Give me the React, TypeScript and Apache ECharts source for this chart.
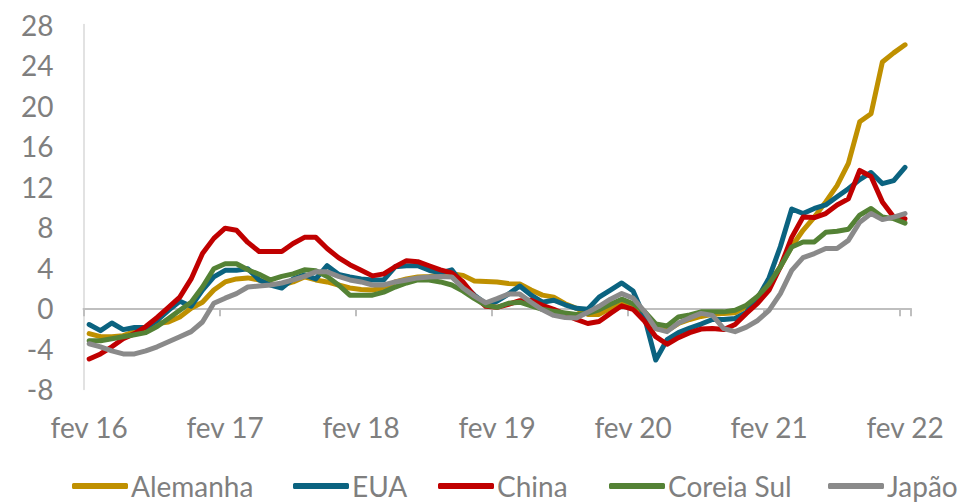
import React, { useEffect, useRef } from "react";
import * as echarts from "echarts";

const monthNames = ["jan", "fev", "mar", "abr", "mai", "jun", "jul", "ago", "set", "out", "nov", "dez"];
const startYear = 2016;
const startMonth = 1; // fev
const monthCount = 73; // fev 16 .. fev 22

const categories: string[] = [];
for (let k = 0; k < monthCount; k++) {
  const m = (startMonth + k) % 12;
  const y = startYear + Math.floor((startMonth + k) / 12);
  categories.push(`${monthNames[m]} ${String(y).slice(2)}`);
}

const yMin = -8;
const yMax = 28;
const yStep = 4;

const seriesNames = ["Alemanha", "EUA", "China", "Coreia Sul", "Japão"];
const seriesColors = ["#BF9000", "#0B6380", "#C00000", "#548235", "#8A8A8A"];

const alemanha = [
  -2.5, -2.8, -2.8, -2.7, -2.3, -2.0, -1.5, -1.35, -0.85, 0, 0.6, 1.8,
  2.6, 2.9, 3.0, 2.8, 2.4, 2.3, 2.6, 3.1, 2.8, 2.6, 2.3, 2.0,
  1.85, 1.8, 2.0, 2.6, 2.9, 3.1, 3.15, 3.3, 3.4, 3.25, 2.7, 2.65,
  2.6, 2.45, 2.4, 1.8, 1.3, 1.1, 0.45, 0, -0.6, -0.6, 0, 0.4,
  0.3, -0.5, -2.0, -2.2, -1.5, -1.1, -0.8, -0.6, -0.5, -0.45, 0.15, 1.1,
  2.5, 4.1, 6.1, 7.7, 9.0, 10.5, 12.1, 14.3, 18.4, 19.2, 24.3, 25.2,
  26.0,
];

const eua = [
  -1.6, -2.2, -1.45, -2.1, -1.9, -1.9, -1.2, -0.2, 0.7, 0.2, 1.8, 3.1,
  3.75, 3.75, 3.9, 2.8, 2.3, 2.0, 2.9, 3.3, 2.9, 4.2, 3.35, 3.1,
  2.9, 2.8, 2.8, 4.1, 4.2, 4.2, 3.75, 3.5, 3.8, 2.35, 1.3, 0.45,
  0.7, 1.4, 2.2, 1.3, 0.6, 0.8, 0.35, 0, -0.1, 1.1, 1.8, 2.5,
  1.7, -0.85, -5.1, -3.1, -2.4, -1.95, -1.55, -1.1, -1.1, -1.0, -0.4, 1.0,
  3.0, 6.1, 9.8, 9.35, 9.85, 10.2, 11.0, 11.8, 12.7, 13.4, 12.3, 12.6,
  13.9,
];

const china = [
  -5.0, -4.5, -3.8, -3.0, -2.5, -1.8, -0.9, 0.1, 1.1, 2.9, 5.4, 6.9,
  7.9, 7.7, 6.5, 5.6, 5.6, 5.6, 6.4, 7.0, 7.0, 5.9, 5.0, 4.3,
  3.75, 3.2, 3.4, 4.1, 4.7, 4.6, 4.2, 3.8, 3.5, 2.6, 1.2, 0.2,
  0.1, 0.4, 0.75, 0.8, 0.3, -0.1, -0.6, -1.1, -1.5, -1.3, -0.5, 0.25,
  -0.1, -1.25, -2.8, -3.55, -2.9, -2.4, -2.05, -2.0, -2.1, -1.6, -0.5, 0.5,
  1.8, 4.1, 7.0, 9.0, 8.95, 9.35, 10.2, 10.8, 13.6, 13.0, 10.5, 9.0,
  8.85,
];

const coreiaSul = [
  -3.2, -3.2, -3.0, -2.8, -2.6, -2.4, -1.8, -1.0, -0.2, 0.6, 2.1, 3.9,
  4.4, 4.4, 3.8, 3.35, 2.8, 3.15, 3.4, 3.8, 3.7, 3.15, 2.3, 1.3,
  1.3, 1.3, 1.6, 2.1, 2.5, 2.8, 2.8, 2.6, 2.3, 1.7, 0.95, 0.3,
  0.1, 0.5, 0.6, 0.25, -0.1, -0.3, -0.45, -0.6, -0.5, -0.15, 0.4, 0.9,
  0.45, -0.3, -1.55, -1.75, -0.85, -0.65, -0.35, -0.35, -0.35, -0.2, 0.3, 1.2,
  2.4, 4.1, 6.05, 6.55, 6.55, 7.5, 7.6, 7.8, 9.2, 9.85, 9.0, 8.85,
  8.4,
];

const japao = [
  -3.5, -3.8, -4.2, -4.5, -4.5, -4.2, -3.8, -3.3, -2.8, -2.3, -1.35, 0.5,
  1.0, 1.45, 2.1, 2.2, 2.3, 2.5, 2.8, 3.15, 3.6, 3.6, 3.15, 2.8,
  2.6, 2.3, 2.3, 2.6, 2.8, 3.0, 3.1, 3.15, 3.1, 2.0, 1.2, 0.55,
  0.95, 1.4, 1.4, 0.6, -0.15, -0.7, -0.9, -0.95, -0.4, 0.2, 0.9, 1.45,
  1.0, -0.3, -2.0, -2.3, -1.45, -0.95, -0.5, -0.7, -2.0, -2.3, -1.85, -1.2,
  -0.2, 1.45, 3.75, 5.0, 5.4, 5.9, 5.9, 6.7, 8.5, 9.35, 8.75, 9.0,
  9.35,
];

const seriesData = [alemanha, eua, china, coreiaSul, japao];

const FONT = "Lato";
const TEXT_COLOR = "#7F7F7F";
const legendLefts = [72, 293, 438, 609, 828];

export default function App() {
  const ref = useRef<HTMLDivElement>(null);

  useEffect(() => {
    if (!ref.current) return;
    const chart = echarts.init(ref.current, undefined, { renderer: "svg" });

    const option: any = {
      animation: false,
      textStyle: { fontFamily: FONT },
      grid: { left: 83.5, right: 52.3, top: 24.5, bottom: 113.6, containLabel: false },
      xAxis: [
        {
          type: "category",
          data: categories,
          boundaryGap: true,
          position: "bottom",
          axisLine: { show: false, onZero: false },
          axisTick: { show: false },
          splitLine: { show: false },
          axisLabel: {
            interval: 11,
            color: TEXT_COLOR,
            fontSize: 28,
            fontFamily: FONT,
            margin: 24,
          },
        },
        {
          type: "category",
          data: categories,
          boundaryGap: true,
          position: "bottom",
          axisLine: { show: true, onZero: true, lineStyle: { color: "#BFBFBF", width: 2 } },
          axisTick: { show: true, interval: 11, length: 8, lineStyle: { color: "#BFBFBF", width: 2 } },
          axisLabel: { show: false },
          splitLine: { show: false },
        },
      ],
      yAxis: {
        type: "value",
        min: yMin,
        max: yMax,
        interval: yStep,
        axisLine: { show: true, lineStyle: { color: "#D9D9D9", width: 1.5 } },
        axisTick: { show: false },
        splitLine: { show: false },
        axisLabel: { color: TEXT_COLOR, fontSize: 28, fontFamily: FONT, margin: 30 },
      },
      legend: seriesNames.map((name, i) => ({
        data: [name],
        left: legendLefts[i],
        top: 472,
        padding: 0,
        itemWidth: 56,
        itemHeight: 6,
        icon: "roundRect",
        selectedMode: false,
        textStyle: {
          color: TEXT_COLOR,
          fontSize: 28,
          lineHeight: 28,
          fontFamily: FONT,
          padding: [0, 0, 0, -2],
        },
      })),
      series: seriesNames.map((name, i) => ({
        name,
        type: "line",
        xAxisIndex: 0,
        data: seriesData[i],
        symbol: "none",
        showSymbol: false,
        color: seriesColors[i],
        lineStyle: { width: 5, color: seriesColors[i], join: "round", cap: "round" },
        emphasis: { disabled: true },
      })),
    };

    chart.setOption(option);
    return () => chart.dispose();
  }, []);

  return (
    <div
      ref={ref}
      style={{ position: "fixed", left: 0, top: 0, width: 963, height: 503, background: "#fff" }}
    />
  );
}
